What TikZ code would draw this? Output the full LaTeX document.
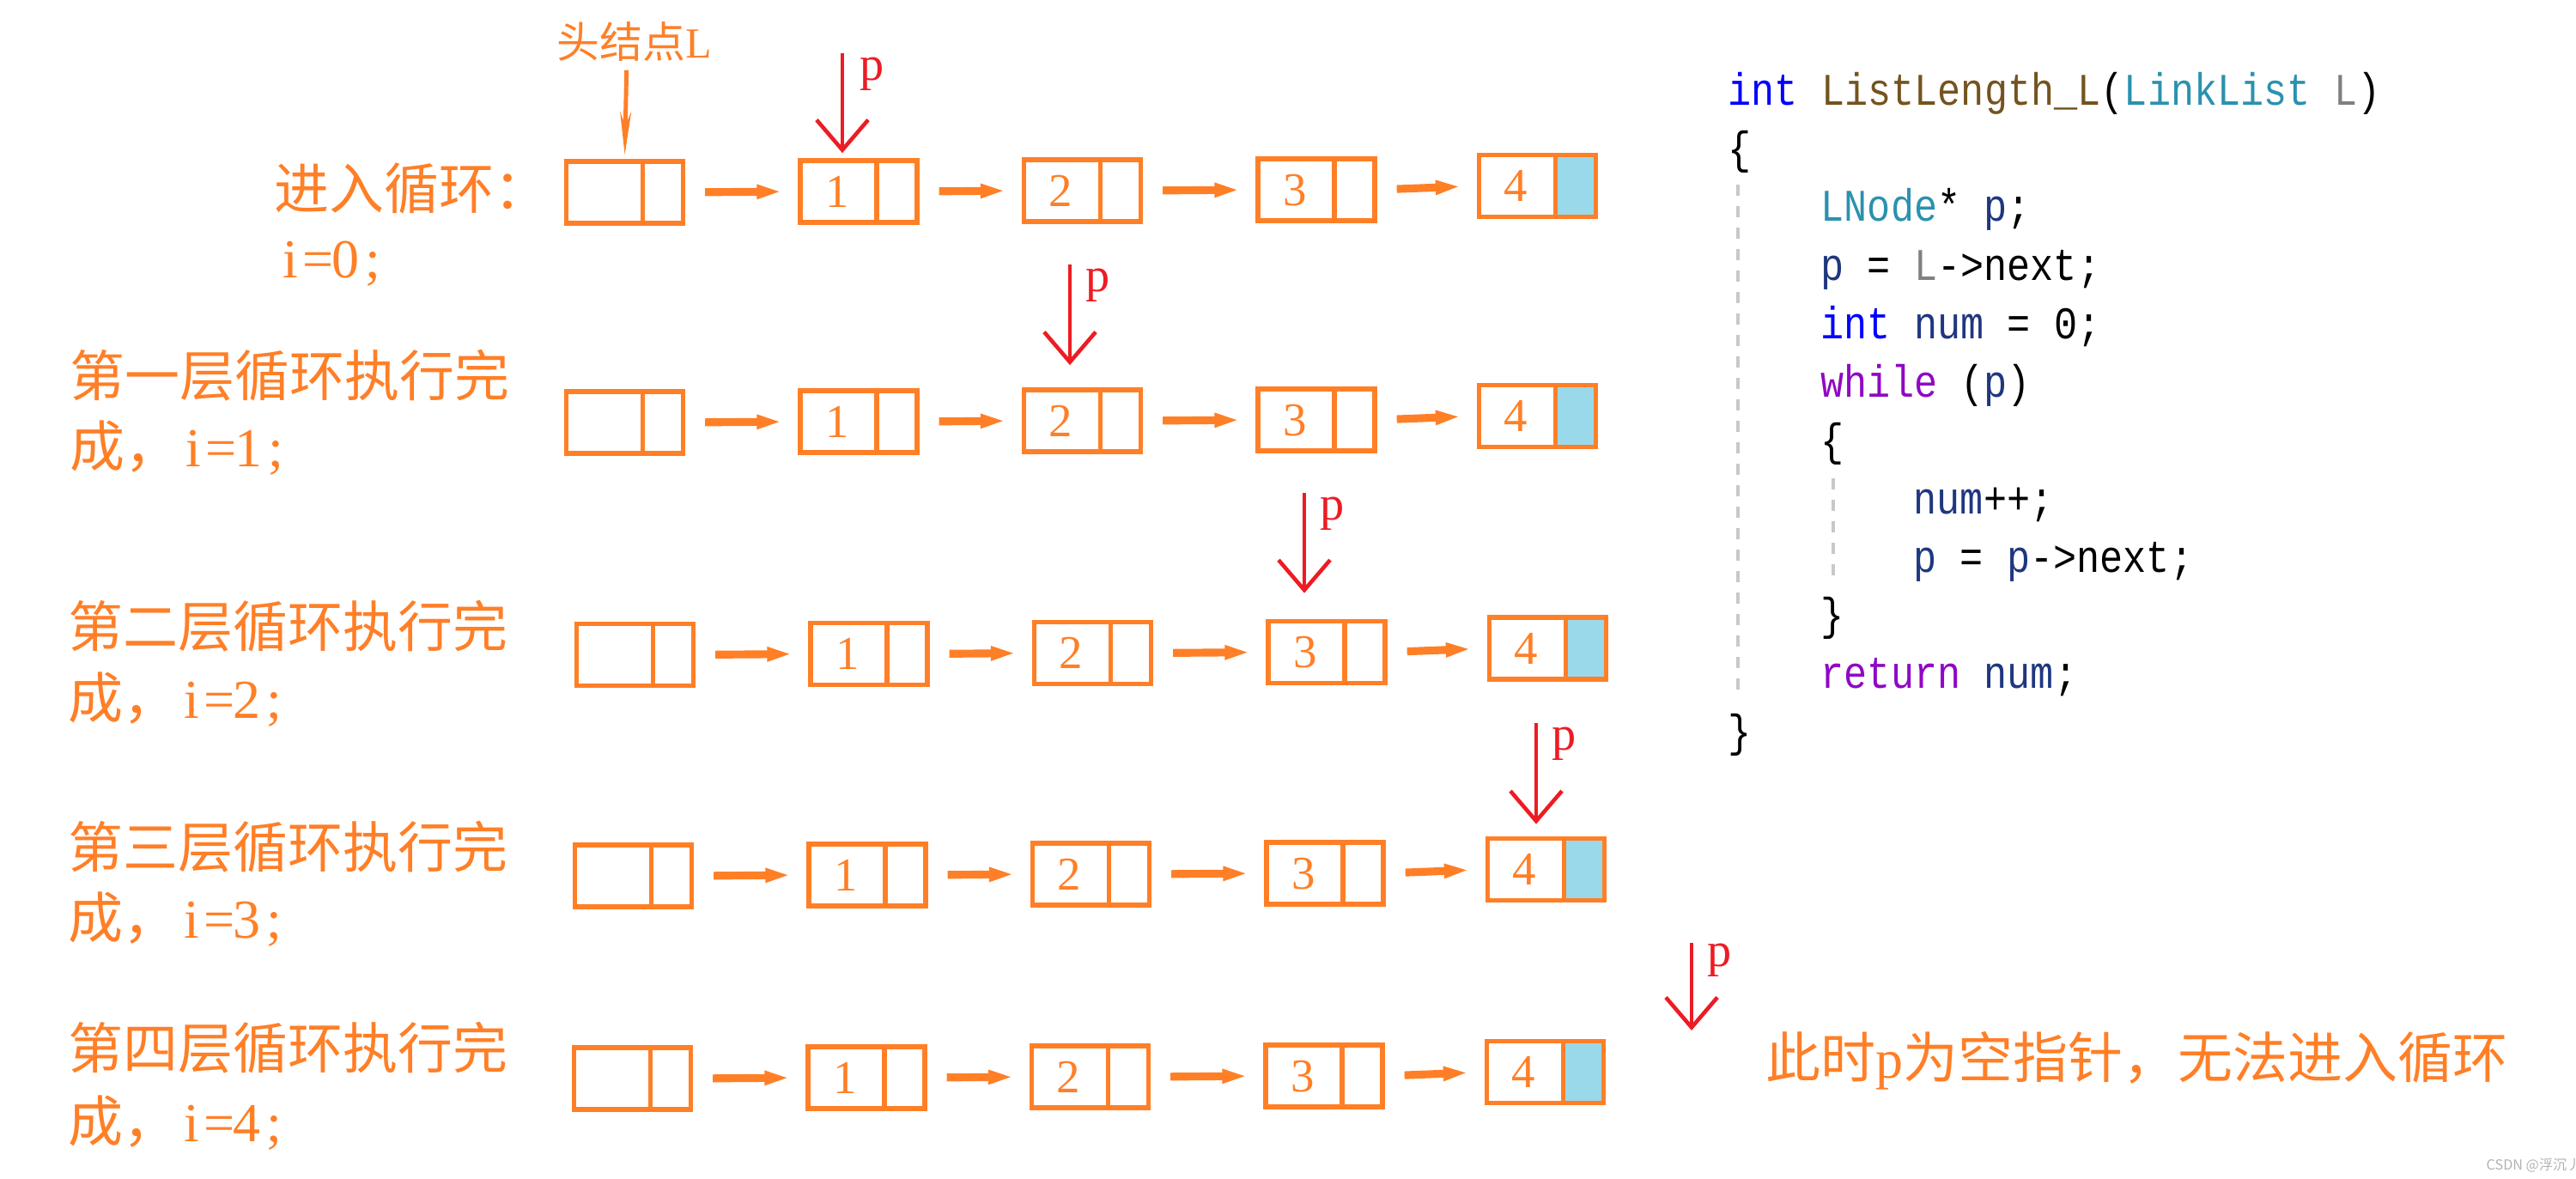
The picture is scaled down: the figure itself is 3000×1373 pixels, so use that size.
\documentclass[tikz,border=0pt]{standalone}
\usepackage{fontspec}
\setmainfont{Liberation Serif}
\newfontfamily\cjk{Noto Sans CJK SC}
\newfontfamily\codefont[FakeStretch=0.857]{Liberation Mono}
\usetikzlibrary{arrows.meta,shapes.multipart}
\definecolor{cor}{HTML}{FF7F27}
\definecolor{cred}{HTML}{ED1C24}
\definecolor{cblue}{HTML}{99D9EA}
\definecolor{ckw}{HTML}{0000FF}
\definecolor{cfn}{HTML}{74531F}
\definecolor{ctype}{HTML}{2B91AF}
\definecolor{cparam}{HTML}{808080}
\definecolor{cvar}{HTML}{1F377F}
\definecolor{cctl}{HTML}{8F08C4}
\definecolor{cguide}{HTML}{C8C8C8}
\newcommand\dg[1]{\makebox[0.86cm]{\rule[-0.18cm]{0pt}{0.72cm}#1}}
\newcommand\dgb{\makebox[0.44cm]{\rule[-0.18cm]{0pt}{0.72cm}}}
\newcommand\hw[1]{\makebox[0.5em]{\rmfamily #1}}
\newcommand\ival[1]{\hw{i}\hw{=}\hw{#1}\hw{;}}
\newcommand\llrow[3]{%
  \begin{scope}[shift={(#2,#3)}]
    \node[lnode] (#1h) at (0,0) {\dg{}\nodepart{two}\dgb};
    \node[lnode] (#1a) at (272.5,-1) {\dg{1}\nodepart{two}\dgb};
    \node[lnode] (#1b) at (533,-2) {\dg{2}\nodepart{two}\dgb};
    \node[lnode] (#1c) at (805.5,-3) {\dg{3}\nodepart{two}\dgb};
    \node[lnode,lastnode] (#1d) at (1063,-7.5) {\dg{4}\nodepart{two}\dgb};
  \end{scope}
  \draw[oarr] (#1h.east) -- (#1a.west);
  \draw[oarr] (#1a.east) -- (#1b.west);
  \draw[oarr] (#1b.east) -- (#1c.west);
  \draw[oarr] (#1c.east) -- (#1d.west);
}
\begin{document}
\begin{tikzpicture}[x=0.01cm,y=-0.01cm,
  lnode/.style={draw=cor, line width=1.6pt, rectangle split, rectangle split horizontal,
    rectangle split parts=2, inner xsep=0pt, inner ysep=0pt, text=cor,
    font=\fontsize{15.6}{16}\selectfont},
  lastnode/.style={rectangle split part fill={white,cblue}},
  oarr/.style={draw=cor, line width=2.6pt, -{Triangle[length=0.3cm,width=0.15cm]},
    shorten <=0.23cm, shorten >=0.18cm},
  parr/.style={draw=cred, line width=1.3pt, -{Straight Barb[length=0.35cm,width=0.6cm]}},
  plbl/.style={text=cred, anchor=north west, inner sep=0pt, font=\fontsize{16}{17}\selectfont},
  harr/.style={draw=cor, line width=1.4pt, -{Stealth[length=0.5cm,width=0.13cm]}},
  lab/.style={text=cor, anchor=base west, inner sep=0pt, font=\cjk\fontsize{18.2}{20}\selectfont},
  cl/.style={anchor=base west, inner sep=0pt, font=\codefont\fontsize{15}{16}\selectfont},
  guide/.style={draw=cguide, line width=1pt, dash pattern=on 0.13cm off 0.12cm}
]
\useasboundingbox (0,0) rectangle (3000,1373);

% linked list rows
\llrow{ra}{727.5}{224}
\llrow{rb}{727.5}{492}
\llrow{rc}{739.5}{762.5}
\llrow{rd}{737.5}{1020}
\llrow{re}{736.5}{1256}

% head label
\node[text=cor, anchor=base west, inner sep=0pt, font=\cjk\fontsize{14.2}{16}\selectfont]
  (hl) at (648,68) {头结点{\rmfamily L}};
\draw[harr, shorten <=0.09cm, shorten >=0.05cm] ([xshift=-0.09cm]hl.south) -- (rah.north);

% p pointers
\coordinate (p1) at (981,62);
\coordinate (p2) at (1246,308);
\coordinate (p3) at (1519,574);
\coordinate (p4) at (1789,842);
\coordinate (p5) at (1970,1098);
\coordinate (p5e) at (1970,1200);
\draw[parr, shorten >=0.06cm] (p1) -- (p1 |- raa.north);
\draw[parr, shorten >=0.26cm] (p2) -- (p2 |- rbb.north);
\draw[parr, shorten >=0.30cm] (p3) -- (p3 |- rcc.north);
\draw[parr, shorten >=0.14cm] (p4) -- (p4 |- rdd.north);
\draw[parr] (p5) -- (p5e);
\node[plbl] (pl1) at ([shift={(20,4)}]p1) {p};
\node[plbl] (pl2) at ([shift={(18,4)}]p2) {p};
\node[plbl] (pl3) at ([shift={(18,4)}]p3) {p};
\node[plbl] (pl4) at ([shift={(18,4)}]p4) {p};
\node[plbl] (pl5) at ([shift={(18,0)}]p5) {p};

% left labels
\node[lab] (l1a) at (319,243) {进入循环：};
\node[lab] (l1b) at (322,323) {\ival{0}};
\node[lab] (l2a) at (81,461) {第一层循环执行完};
\node[lab] (l2b) at (81,543) {成，\ival{1}};
\node[lab] (l3a) at (79,753) {第二层循环执行完};
\node[lab] (l3b) at (79,836) {成，\ival{2}};
\node[lab] (l4a) at (79,1010) {第三层循环执行完};
\node[lab] (l4b) at (79,1092) {成，\ival{3}};
\node[lab] (l5a) at (79,1244) {第四层循环执行完};
\node[lab] (l5b) at (79,1329) {成，\ival{4}};

\node[lab] (nul) at (2056,1255) {此时{\rmfamily p}为空指针，无法进入循环};

% code
\draw[guide] (2024,215) -- (2024,815);
\draw[guide] (2135,557) -- (2135,672);
\node[cl] (c1) at (2012,123) {\textcolor{ckw}{int} \textcolor{cfn}{ListLength\_L}(\textcolor{ctype}{LinkList} \textcolor{cparam}{L})};
\node[cl] (c2) at (2012,191) {\{};
\node[cl] (c3) at (2120,258) {\textcolor{ctype}{LNode}* \textcolor{cvar}{p};};
\node[cl] (c4) at (2120,326) {\textcolor{cvar}{p} = \textcolor{cparam}{L}->next;};
\node[cl] (c5) at (2120,394) {\textcolor{ckw}{int} \textcolor{cvar}{num} = 0;};
\node[cl] (c6) at (2120,462) {\textcolor{cctl}{while} (\textcolor{cvar}{p})};
\node[cl] (c7) at (2120,530) {\{};
\node[cl] (c8) at (2228,598) {\textcolor{cvar}{num}++;};
\node[cl] (c9) at (2228,666) {\textcolor{cvar}{p} = \textcolor{cvar}{p}->next;};
\node[cl] (c10) at (2120,733) {\}};
\node[cl] (c11) at (2120,801) {\textcolor{cctl}{return} \textcolor{cvar}{num};};
\node[cl] (c12) at (2012,869) {\}};

% watermark
\node[anchor=base west, inner sep=0pt, text=gray!60, font=\cjk\fontsize{4.6}{5}\selectfont]
  (wm) at (2895,1362) {CSDN @浮沉丿};
\end{tikzpicture}
\end{document}
